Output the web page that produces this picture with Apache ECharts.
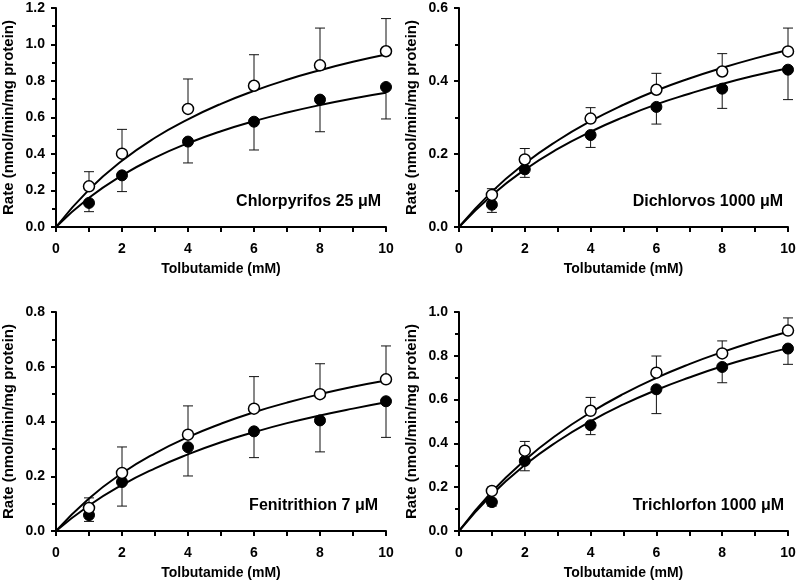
<!DOCTYPE html>
<html>
<head>
<meta charset="utf-8">
<script src="https://cdn.jsdelivr.net/npm/echarts@6/dist/echarts.min.js"></script>
<style>
html,body{margin:0;padding:0;background:#fff;}
#chart{width:799px;height:584px;}
</style>
</head>
<body>
<div id="chart"></div>
<script>
// ---- data ----
const doseX = [1, 2, 4, 6, 8, 10];
const curveX = [0, 1, 2, 3, 4, 5, 6, 7, 8, 9, 10];
const panelLabels = ['Chlorpyrifos 25 \u03BCM', 'Dichlorvos 1000 \u03BCM', 'Fenitrithion 7 \u03BCM', 'Trichlorfon 1000 \u03BCM'];
const yMaxes = [1.2, 0.6, 0.8, 1.0];
const xTitle = 'Tolbutamide (mM)';
const yTitle = 'Rate (nmol/min/mg protein)';

// Chlorpyrifos
const chlOpen = [0.223, 0.402, 0.647, 0.774, 0.886, 0.963];
const chlOpenSD = [0.080, 0.133, 0.164, 0.170, 0.204, 0.179];
const chlFilled = [0.132, 0.283, 0.468, 0.577, 0.698, 0.767];
const chlFilledSD = [0.048, 0.089, 0.117, 0.155, 0.176, 0.175];
const chlOpenCurve = [0, 0.205, 0.363, 0.489, 0.590, 0.675, 0.746, 0.807, 0.859, 0.905, 0.945];
const chlFilledCurve = [0, 0.160, 0.283, 0.380, 0.459, 0.525, 0.580, 0.627, 0.668, 0.704, 0.735];

// Dichlorvos
const dicOpen = [0.088, 0.185, 0.297, 0.376, 0.426, 0.481];
const dicOpenSD = [0.017, 0.030, 0.030, 0.045, 0.049, 0.064];
const dicFilled = [0.061, 0.158, 0.252, 0.329, 0.379, 0.431];
const dicFilledSD = [0.021, 0.022, 0.034, 0.047, 0.054, 0.082];
const dicOpenCurve = [0, 0.097, 0.174, 0.237, 0.290, 0.335, 0.374, 0.407, 0.436, 0.462, 0.485];
const dicFilledCurve = [0, 0.087, 0.157, 0.214, 0.261, 0.301, 0.336, 0.365, 0.392, 0.415, 0.435];

// Fenitrithion
const fenOpen = [0.084, 0.212, 0.352, 0.447, 0.500, 0.554];
const fenOpenSD = [0.037, 0.095, 0.105, 0.117, 0.111, 0.122];
const fenFilled = [0.058, 0.179, 0.306, 0.364, 0.404, 0.474];
const fenFilledSD = [0.023, 0.088, 0.105, 0.096, 0.115, 0.132];
const fenOpenCurve = [0, 0.119, 0.211, 0.284, 0.343, 0.392, 0.434, 0.469, 0.500, 0.527, 0.550];
const fenFilledCurve = [0, 0.093, 0.168, 0.229, 0.280, 0.324, 0.361, 0.394, 0.422, 0.447, 0.470];

// Trichlorfon
const triOpen = [0.183, 0.367, 0.549, 0.723, 0.811, 0.915];
const triOpenSD = [0.017, 0.042, 0.061, 0.076, 0.057, 0.058];
const triFilled = [0.132, 0.320, 0.483, 0.647, 0.749, 0.833];
const triFilledSD = [0.018, 0.045, 0.043, 0.111, 0.072, 0.072];
const triOpenCurve = [0, 0.179, 0.323, 0.442, 0.541, 0.626, 0.699, 0.762, 0.817, 0.866, 0.910];
const triFilledCurve = [0, 0.167, 0.301, 0.410, 0.501, 0.578, 0.644, 0.701, 0.752, 0.796, 0.835];

const panels = [
  {open: chlOpen, openSD: chlOpenSD, filled: chlFilled, filledSD: chlFilledSD, openCurve: chlOpenCurve, filledCurve: chlFilledCurve},
  {open: dicOpen, openSD: dicOpenSD, filled: dicFilled, filledSD: dicFilledSD, openCurve: dicOpenCurve, filledCurve: dicFilledCurve},
  {open: fenOpen, openSD: fenOpenSD, filled: fenFilled, filledSD: fenFilledSD, openCurve: fenOpenCurve, filledCurve: fenFilledCurve},
  {open: triOpen, openSD: triOpenSD, filled: triFilled, filledSD: triFilledSD, openCurve: triOpenCurve, filledCurve: triFilledCurve}
];

// ---- layout ----
const FONT = '"Liberation Sans", Arial, sans-serif';
const grids = [
  {left: 56, top: 8, width: 330, height: 219},
  {left: 459, top: 8, width: 329, height: 219},
  {left: 55, top: 312, width: 331, height: 219},
  {left: 459, top: 312, width: 329, height: 219}
];
const labelPos = [
  {x: 381, y: 202},
  {x: 783, y: 202},
  {x: 378, y: 506},
  {x: 784, y: 506}
];

const xAxes = [], yAxes = [], series = [], graphics = [];

function errRender(dir) {
  return function (params, api) {
    const x = api.value(0), y = api.value(1), sd = api.value(2);
    const p0 = api.coord([x, y]);
    const p1 = api.coord([x, y + dir * sd]);
    const style = {stroke: '#111', lineWidth: 1, fill: null};
    return {
      type: 'group',
      children: [
        {type: 'line', shape: {x1: p0[0], y1: p0[1], x2: p1[0], y2: p1[1]}, style: style},
        {type: 'line', shape: {x1: p1[0] - 5, y1: p1[1], x2: p1[0] + 5, y2: p1[1]}, style: style}
      ]
    };
  };
}

panels.forEach(function (p, i) {
  xAxes.push({
    gridIndex: i, type: 'value', min: 0, max: 10, interval: 2,
    name: xTitle, nameLocation: 'middle', nameGap: 35,
    nameTextStyle: {fontFamily: FONT, fontWeight: 'bold', fontSize: 14, color: '#000'},
    axisLine: {show: true, lineStyle: {color: '#000', width: 2}},
    axisTick: {show: true, length: 5, lineStyle: {color: '#000', width: 2}},
    minorTick: {show: true, splitNumber: 2, length: 5, lineStyle: {color: '#000', width: 2}},
    axisLabel: {fontFamily: FONT, fontWeight: 'bold', fontSize: 14, color: '#000', margin: 15},
    splitLine: {show: false}
  });
  yAxes.push({
    gridIndex: i, type: 'value', min: 0, max: yMaxes[i], interval: 0.2,
    name: yTitle, nameLocation: 'middle', nameGap: 40, nameRotate: 90,
    nameTextStyle: {fontFamily: FONT, fontWeight: 'bold', fontSize: 15, color: '#000'},
    axisLine: {show: true, lineStyle: {color: '#000', width: 2}},
    axisTick: {show: true, length: 5, lineStyle: {color: '#000', width: 2}},
    minorTick: {show: true, splitNumber: 2, length: 4, lineStyle: {color: '#000', width: 2}},
    axisLabel: {fontFamily: FONT, fontWeight: 'bold', fontSize: 14, color: '#000', margin: 11,
      formatter: function (v) { return v.toFixed(1); }},
    splitLine: {show: false}
  });
  const curveOpenData = curveX.map(function (x, k) { return [x, p.openCurve[k]]; });
  const curveFilledData = curveX.map(function (x, k) { return [x, p.filledCurve[k]]; });
  const lineCommon = {type: 'line', xAxisIndex: i, yAxisIndex: i, showSymbol: false, smooth: 0.5,
    lineStyle: {color: '#000', width: 2}, z: 2, silent: true};
  series.push(Object.assign({}, lineCommon, {data: curveOpenData}));
  series.push(Object.assign({}, lineCommon, {data: curveFilledData}));
  series.push({type: 'custom', xAxisIndex: i, yAxisIndex: i, z: 1, silent: true,
    renderItem: errRender(1),
    data: doseX.map(function (x, k) { return [x, p.open[k], p.openSD[k]]; })});
  series.push({type: 'custom', xAxisIndex: i, yAxisIndex: i, z: 1, silent: true,
    renderItem: errRender(-1),
    data: doseX.map(function (x, k) { return [x, p.filled[k], p.filledSD[k]]; })});
  series.push({type: 'scatter', xAxisIndex: i, yAxisIndex: i, z: 4, symbol: 'circle', symbolSize: 11,
    itemStyle: {color: '#000', borderColor: '#000', borderWidth: 1, opacity: 1},
    data: doseX.map(function (x, k) { return [x, p.filled[k]]; })});
  series.push({type: 'scatter', xAxisIndex: i, yAxisIndex: i, z: 5, symbol: 'circle', symbolSize: 11,
    itemStyle: {color: '#fff', borderColor: '#000', borderWidth: 1.5, opacity: 1},
    data: doseX.map(function (x, k) { return [x, p.open[k]]; })});
  graphics.push({
    type: 'text', x: labelPos[i].x, y: labelPos[i].y, z: 10,
    style: {text: panelLabels[i], fontFamily: FONT, fontWeight: 'bold', fontSize: 16, fill: '#000',
      textAlign: 'right', textVerticalAlign: 'middle'}
  });
});

const chart = echarts.init(document.getElementById('chart'), null, {renderer: 'canvas'});
chart.setOption({
  animation: false,
  backgroundColor: '#fff',
  grid: grids,
  xAxis: xAxes,
  yAxis: yAxes,
  series: series,
  graphic: graphics
});
</script>
</body>
</html>
